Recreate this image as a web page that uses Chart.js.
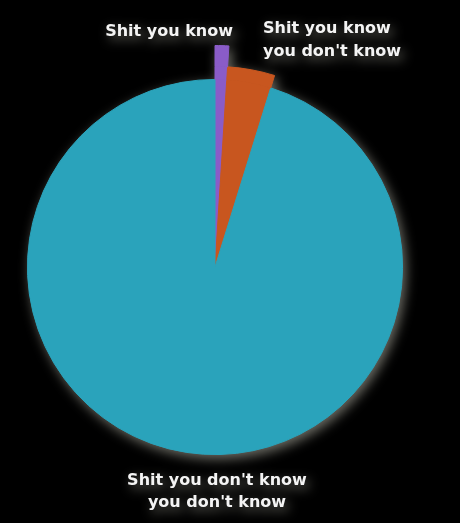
<!DOCTYPE html>
<html>
<head>
<meta charset="utf-8">
<script src="https://cdn.jsdelivr.net/npm/chart.js@4/dist/chart.umd.min.js"></script>
<style>
html, body { margin: 0; padding: 0; background: #000; overflow: hidden; }
#wrap { position: absolute; left: -10px; top: 0; width: 450px; height: 523px; }
#chartcanvas { filter: drop-shadow(3px 4px 6px rgba(255,255,235,0.42)); }
</style>
</head>
<body>
<div id="wrap"><canvas id="chartcanvas"></canvas></div>
<script>
var labels = ["Shit you know", "Shit you know\nyou don't know", "Shit you don't know\nyou don't know"];
var values = [1, 3.8, 95.2];
var colors = ["#8a5cc8", "#c8561f", "#2aa3bb"];

// outer rings only show the slices that stick out past the main pie
function ring(show) {
	return colors.map(function (c, i) { return show[i] ? c : "rgba(0,0,0,0)"; });
}

var datasets = [
	{ data: values, backgroundColor: ring([1, 0, 0]), borderColor: ring([1, 0, 0]), weight: 21 },
	{ data: values, backgroundColor: ring([1, 1, 0]), borderColor: ring([1, 1, 0]), weight: 13 },
	{ data: values, backgroundColor: colors, borderColor: colors, weight: 188 }
];

var labelPlugin = {
	id: "sliceLabels",
	afterDraw: function (chart) {
		var ctx = chart.ctx;
		var arc = chart.getDatasetMeta(0).data[0];
		var inner = chart.getDatasetMeta(2).data[0];
		var cx = arc.x, cy = arc.y, R = arc.outerRadius, r = inner.outerRadius;
		ctx.save();
		ctx.fillStyle = "#f4f4f4";
		ctx.font = "bold 16px 'DejaVu Sans', Verdana, sans-serif";
		ctx.textBaseline = "middle";
		ctx.textAlign = "right";
		ctx.fillText(labels[0], cx + 18, cy - R - 14);
		ctx.textAlign = "left";
		var l1 = labels[1].split("\n");
		ctx.fillText(l1[0], cx + 48, cy - R - 17);
		ctx.fillText(l1[1], cx + 48, cy - R + 6);
		ctx.textAlign = "center";
		var l2 = labels[2].split("\n");
		ctx.fillText(l2[0], cx + 2, cy + r + 26);
		ctx.fillText(l2[1], cx + 2, cy + r + 48);
		ctx.restore();
	}
};

var ctx = document.getElementById("chartcanvas").getContext("2d");
var myChart = new Chart(ctx, {
	type: "doughnut",
	data: { labels: labels, datasets: datasets },
	options: {
		responsive: true,
		maintainAspectRatio: false,
		animation: false,
		cutout: 0,
		borderWidth: 1,
		hoverOffset: 0,
		layout: { padding: { left: 3, right: 3, top: 40, bottom: 29 } },
		plugins: { legend: { display: false }, tooltip: { enabled: false } }
	},
	plugins: [labelPlugin]
});
</script>
</body>
</html>
